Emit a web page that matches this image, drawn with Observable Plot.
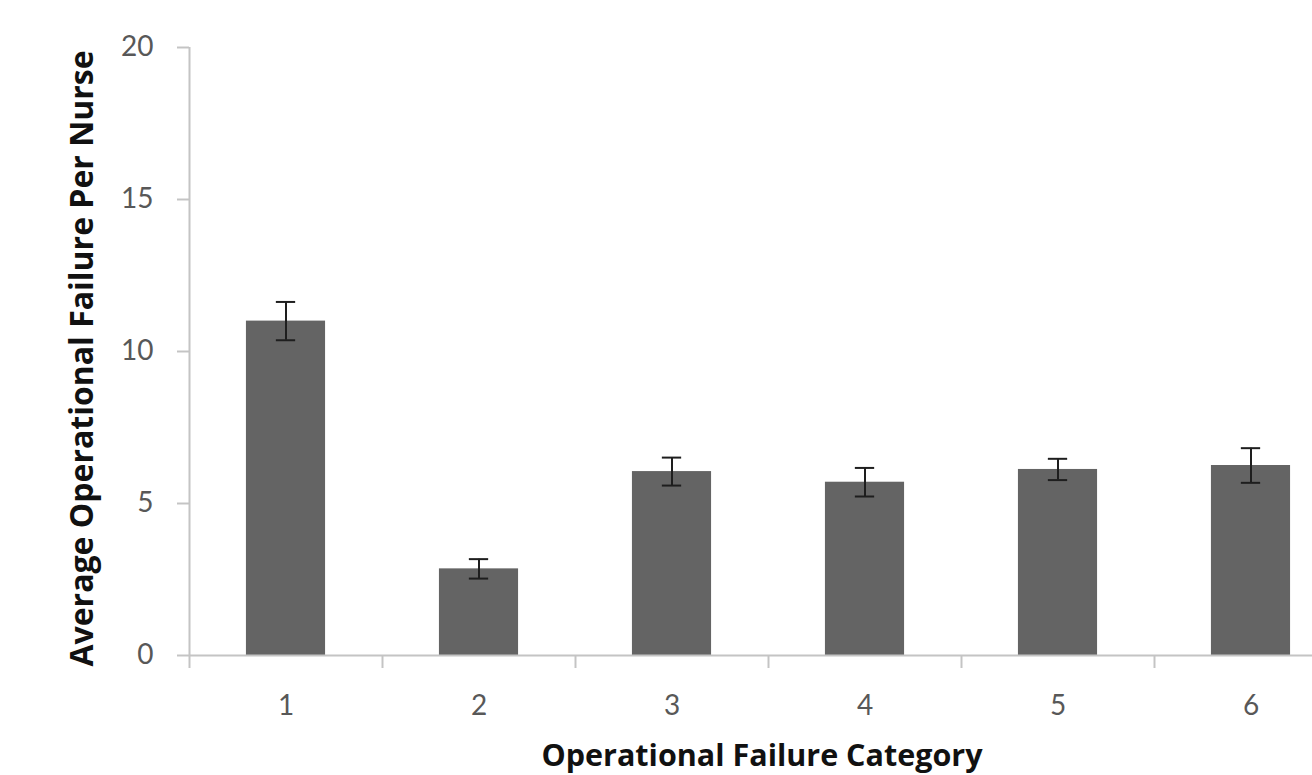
<!DOCTYPE html>
<html>
<head>
<meta charset="utf-8">
<script src="https://cdn.jsdelivr.net/npm/d3@7"></script>
<script src="https://cdn.jsdelivr.net/npm/@observablehq/plot@0.6"></script>
<style>
  html, body { margin: 0; padding: 0; background: #fff; overflow: hidden; }
  #chart svg { display: block; }
</style>
</head>
<body>
<div id="chart"></div>
<script>
const categories = ["1", "2", "3", "4", "5", "6"];
const means = [11.0, 2.85, 6.05, 5.7, 6.12, 6.25];
const errors = [0.63, 0.32, 0.46, 0.47, 0.35, 0.57];
const yTicks = [0, 5, 10, 15, 20];
const xTitle = "Operational Failure Category";
const yTitle = "Average Operational Failure Per Nurse";

const data = categories.map((c, i) => ({pos: i + 1, label: c, mean: means[i], err: errors[i]}));
const boundaries = d3.range(0, categories.length + 1).map(i => i + 0.5);
const centers = data.map(d => d.pos);

const axisColor = "#c4c4c4";
const labelColor = "#585858";
const font = "Lato, 'Open Sans', sans-serif";
const titleFont = "'Open Sans', Lato, sans-serif";

const chart = Plot.plot({
  width: 1312,
  height: 775,
  marginLeft: 189,
  marginTop: 47,
  marginBottom: 120,
  marginRight: 0,
  style: {fontFamily: font, background: "#fff", overflow: "visible"},
  x: {type: "linear", domain: [0.5, 6.5], range: [189, 1347]},
  y: {domain: [0, 20], range: [655, 47]},
  marks: [
    Plot.rectY(data, {x1: d => d.pos - 0.205, x2: d => d.pos + 0.205, y1: 0, y2: "mean", fill: "#646464"}),
    Plot.ruleY([0], {x1: 0.5, x2: 6.5, stroke: axisColor, strokeWidth: 2}),
    Plot.ruleX([0.5], {y1: 0, y2: 20, stroke: axisColor, strokeWidth: 2}),
    Plot.axisY(yTicks, {tickSize: 12, tickPadding: 24, stroke: axisColor, strokeWidth: 2, fill: labelColor, fontSize: 28, label: null}),
    Plot.axisX(boundaries, {tickSize: 13, tickFormat: () => "", stroke: axisColor, strokeWidth: 2, label: null}),
    Plot.axisX(centers, {tickSize: 0, tickPadding: 40, tickFormat: v => categories[v - 1], fill: labelColor, fontSize: 28, label: null}),
    Plot.ruleX(data, {x: "pos", y1: d => d.mean - d.err, y2: d => d.mean + d.err, stroke: "#1e1e1e", strokeWidth: 2}),
    Plot.ruleY(data, {y: d => d.mean + d.err, x1: d => d.pos - 0.05, x2: d => d.pos + 0.05, stroke: "#1e1e1e", strokeWidth: 2}),
    Plot.ruleY(data, {y: d => d.mean - d.err, x1: d => d.pos - 0.05, x2: d => d.pos + 0.05, stroke: "#1e1e1e", strokeWidth: 2}),
    Plot.text([yTitle], {frameAnchor: "left", rotate: -90, dx: -107, dy: 7, fontSize: 32, fontFamily: titleFont, fontWeight: "bold", fill: "#111", textAnchor: "middle", lineAnchor: "middle"}),
    Plot.text([xTitle], {frameAnchor: "bottom", dx: 11, dy: 101, fontSize: 30.5, fontFamily: titleFont, fontWeight: "bold", fill: "#111", textAnchor: "middle", lineAnchor: "middle"})
  ]
});
document.getElementById("chart").appendChild(chart);
</script>
</body>
</html>
